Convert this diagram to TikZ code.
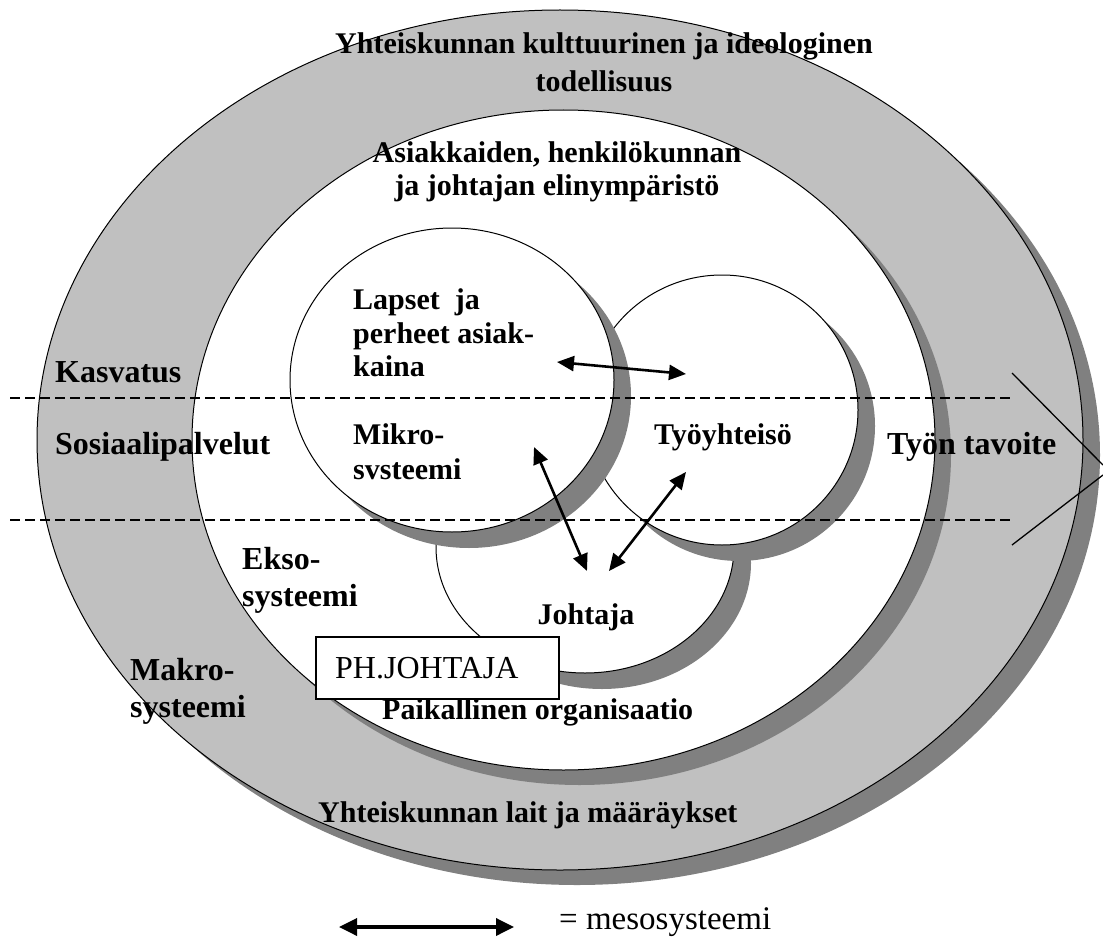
\documentclass[tikz,border=0pt]{standalone}
\usepackage{fontspec}
\setmainfont{Liberation Serif}
\usetikzlibrary{arrows.meta,shapes.geometric}
\definecolor{lgray}{HTML}{C0C0C0}
\definecolor{sgray}{HTML}{808080}
\begin{document}
\begin{tikzpicture}[x=1pt,y=-1pt,
  oval/.style={ellipse, inner sep=0pt, outer sep=0pt},
  shade/.style={oval, fill=sgray, draw=none},
  ring/.style={oval, draw=black, line width=1pt},
  lbl/.style={font=\fontsize{30}{33.5}\selectfont\bfseries, inner sep=0pt},
  side/.style={font=\fontsize{32}{37}\selectfont\bfseries, inner sep=0pt, align=left},
  meso/.style={{Triangle[length=17pt,width=15pt]}-{Triangle[length=17pt,width=15pt]}, line width=2.6pt},
  divider/.style={dash pattern=on 10pt off 5pt, line width=2.5pt},
  goal/.style={line width=1.3pt}
]
\useasboundingbox (0,0) rectangle (1103,939);
% outer ring
\node[shade, minimum width=1046pt, minimum height=860pt] (outerS) at (577,455) {};
\node[ring, fill=lgray, minimum width=1046pt, minimum height=860pt] (outer) at (560,440) {};
% inner ring
\node[shade, minimum width=743pt, minimum height=660pt] (innerS) at (579.5,455) {};
\node[ring, fill=white, minimum width=743pt, minimum height=660pt] (inner) at (563.5,440) {};
% Johtaja
\node[shade, minimum width=298pt, minimum height=252pt] (johS) at (602,563) {};
\node[ring, fill=white, minimum width=298pt, minimum height=252pt] (joh) at (585,547) {};
% Tyoyhteiso
\node[shade, minimum width=272pt, minimum height=270pt] (tyoS) at (739,426) {};
\node[ring, fill=white, minimum width=272pt, minimum height=270pt] (tyo) at (722,410) {};
% Lapset
\node[shade, minimum width=324pt, minimum height=304pt] (lapS) at (469,396) {};
\node[ring, fill=white, minimum width=324pt, minimum height=304pt] (lap) at (452,380) {};
% dividers
\coordinate (d1a) at (10,398); \coordinate (d1b) at (1013,398);
\coordinate (d2a) at (10,520); \coordinate (d2b) at (1013,520);
\draw[divider] (d1a) -- (d1b);
\draw[divider] (d2a) -- (d2b);
% goal lines
\coordinate (g1a) at (1012,373); \coordinate (g1b) at (1103,465);
\coordinate (g2a) at (1012,545); \coordinate (g2b) at (1103,475);
\draw[goal] (g1a) -- (g1b);
\draw[goal] (g2a) -- (g2b);
% meso arrows
\coordinate (a1s) at (557,362); \coordinate (a1e) at (686,374);
\coordinate (a2s) at (534,447); \coordinate (a2e) at (587,571);
\coordinate (a3s) at (686,472); \coordinate (a3e) at (609,571);
\draw[meso] (a1s) -- (a1e);
\draw[meso] (a2s) -- (a2e);
\draw[meso] (a3s) -- (a3e);
% texts
\node[lbl, align=center, font=\fontsize{30}{38}\selectfont\bfseries] (tCult) at (604,62) {Yhteiskunnan kulttuurinen ja ideologinen\\todellisuus};
\node[lbl, align=center] (tEnv) at (557,172) {Asiakkaiden, henkilökunnan\\ja johtajan elinympäristö};
\node[lbl, align=left, anchor=west] (tLap) at (353,333) {Lapset\ \ ja\\perheet asiak-\\kaina};
\node[lbl, align=left, anchor=west, font=\fontsize{30}{35}\selectfont\bfseries] (tMik) at (353,452) {Mikro-\\svsteemi};
\node[lbl] (tTyo) at (723,437) {Työyhteisö};
\node[lbl] (tJoh) at (586,617) {Johtaja};
\node[lbl, anchor=west] (tPaik) at (382,712) {Paikallinen organisaatio};
\node[lbl, anchor=west] (tLait) at (318,815) {Yhteiskunnan lait ja määräykset};
\node[side, anchor=west] (tKas) at (55,372) {Kasvatus};
\node[side, anchor=west] (tSos) at (55,447) {Sosiaalipalvelut};
\node[side, anchor=west] (tTav) at (887,447) {Työn tavoite};
\node[side, anchor=west] (tEks) at (242,580) {Ekso-\\systeemi};
\node[side, anchor=west] (tMak) at (130,691) {Makro-\\systeemi};
% PH.JOHTAJA box
\node[draw=black, line width=1.5pt, fill=white, minimum width=243pt, minimum height=62pt, inner sep=0pt] (ph) at (437.5,668) {};
\node[anchor=west, inner sep=0pt, font=\fontsize{32}{36}\selectfont] (phT) at (335,668) {PH.JOHTAJA};
% legend
\coordinate (ls) at (339,927); \coordinate (le) at (514,927);
\draw[{Triangle[length=18pt,width=17pt]}-{Triangle[length=18pt,width=17pt]}, line width=3.5pt] (ls) -- (le);
\node[anchor=west, inner sep=0pt, font=\fontsize{33}{36}\selectfont] (leg) at (559,922) {= mesosysteemi};
\end{tikzpicture}
\end{document}
